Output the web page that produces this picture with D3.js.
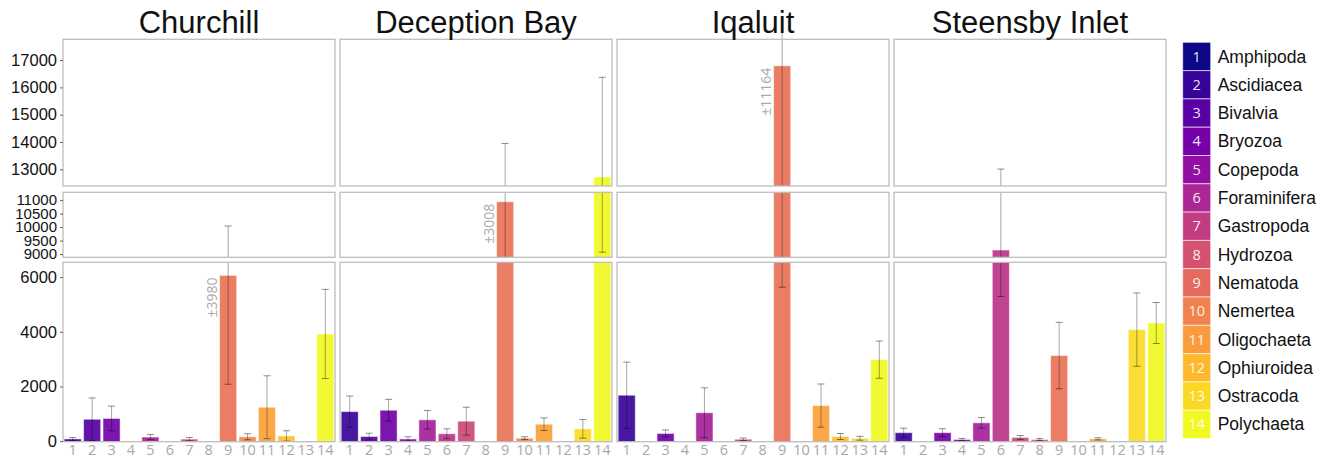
<!DOCTYPE html>
<html>
<head>
<meta charset="utf-8">
<script src="https://cdn.jsdelivr.net/npm/d3@7"></script>
<style>
  body { margin: 0; background: #fff; }
  svg { display: block; }
</style>
</head>
<body>
<svg id="chart" width="1327" height="459"></svg>
<script>
// ===== DATA =====
const taxa = ["Amphipoda", "Ascidiacea", "Bivalvia", "Bryozoa", "Copepoda", "Foraminifera", "Gastropoda",
    "Hydrozoa", "Nematoda", "Nemertea", "Oligochaeta", "Ophiuroidea", "Ostracoda", "Polychaeta"];
const sites = ["Churchill", "Deception Bay", "Iqaluit", "Steensby Inlet"];

const meanChurchill = [80, 800, 830, 0, 150, 0, 75, 0, 6060, 160, 1240, 190, 0, 3920];
const errChurchill  = [50, 780, 450, 0, 95, 0, 60, 0, 3980, 110, 1150, 190, 0, 1630];
const meanDeception = [1080, 170, 1130, 80, 780, 270, 730, 0, 10940, 110, 620, 0, 450, 12720];
const errDeception  = [570, 120, 400, 80, 340, 180, 510, 0, 3008, 50, 230, 0, 340, 3650];
const meanIqaluit   = [1680, 0, 280, 0, 1040, 0, 70, 0, 16790, 0, 1300, 170, 105, 2980];
const errIqaluit    = [1210, 0, 130, 0, 910, 0, 45, 0, 11164, 0, 790, 110, 70, 680];
const meanSteensby  = [310, 0, 310, 60, 670, 9150, 135, 60, 3130, 0, 85, 0, 4080, 4320];
const errSteensby   = [165, 0, 145, 40, 195, 3860, 70, 35, 1215, 0, 40, 0, 1340, 750];

const means = [meanChurchill, meanDeception, meanIqaluit, meanSteensby];
const errs = [errChurchill, errDeception, errIqaluit, errSteensby];
// bars whose error is written out beside them: [site index, taxon index]
const annotated = [[0, 8], [1, 8], [2, 8]];

// broken y axis: three segments, same px-per-unit
const segments = [
    { domain: [12390, 17760], range: [186, 39.3], ticks: [13000, 14000, 15000, 16000, 17000], clipTop: 30 },
    { domain: [8880, 11290], range: [257.3, 192.3], ticks: [9000, 9500, 10000, 10500, 11000] },
    { domain: [-20, 6540], range: [441.7, 262.3], ticks: [0, 2000, 4000, 6000] }
];

// ===== LAYOUT =====
const svg = d3.select('#chart');
const panelX0 = 63, panelW = 272, panelStep = 277;
const legendColor = i => d3.interpolatePlasma(i / 13);
const barColor = i => d3.interpolatePlasma(0.08 + 0.92 * i / 13);
const x = d3.scaleBand().domain(d3.range(14)).range([0, panelW]).paddingInner(0.12).paddingOuter(0.06);

segments.forEach(s => { s.y = d3.scaleLinear().domain(s.domain).range(s.range); });

function segFor(v) {
    return segments.find(s => v >= s.domain[0] && v <= s.domain[1]);
}

const defs = svg.append('defs');

sites.forEach((site, si) => {
    const px = panelX0 + si * panelStep;
    const g = svg.append('g').attr('transform', `translate(${px},0)`);

    // title
    svg.append('text')
        .attr('x', px + panelW / 2).attr('y', 33)
        .attr('text-anchor', 'middle')
        .attr('font-family', 'Liberation Sans, Arial, sans-serif')
        .attr('font-size', 31).attr('fill', '#111')
        .text(site);

    segments.forEach((s, k) => {
        const top = s.range[1], bot = s.range[0];
        const clipId = `clip-${si}-${k}`;
        const ct = s.clipTop !== undefined ? s.clipTop : top;
        defs.append('clipPath').attr('id', clipId)
            .append('rect').attr('x', -2).attr('y', ct).attr('width', panelW + 4).attr('height', bot - ct);

        const layer = g.append('g').attr('clip-path', `url(#${clipId})`);

        // bars
        means[si].forEach((m, i) => {
            if (m <= 0 || m < s.domain[0]) return;
            const yTop = s.y(Math.min(m, s.domain[1] + 100));
            const yBase = s.y(Math.max(0, s.domain[0]));
            layer.append('rect')
                .attr('x', x(i)).attr('width', x.bandwidth())
                .attr('y', yTop).attr('height', Math.max(0, yBase - yTop + 2))
                .attr('fill', barColor(i)).attr('fill-opacity', 0.92)
                .attr('stroke', '#fff').attr('stroke-opacity', 0.5).attr('stroke-width', 1);
        });

        // error bars
        means[si].forEach((m, i) => {
            const e = errs[si][i];
            if (m <= 0 && e <= 0) return;
            const lo = Math.max(0, m - e), hi = m + e;
            const cx = x(i) + x.bandwidth() / 2;
            layer.append('line')
                .attr('x1', cx).attr('x2', cx).attr('y1', s.y(hi)).attr('y2', s.y(lo))
                .attr('stroke', '#000').attr('stroke-opacity', 0.35).attr('stroke-width', 1);
            [lo, hi].forEach(v => {
                if (v < s.domain[0] || v > s.domain[1]) return;
                layer.append('line')
                    .attr('x1', cx - 3.5).attr('x2', cx + 3.5).attr('y1', s.y(v)).attr('y2', s.y(v))
                    .attr('stroke', '#000').attr('stroke-opacity', 0.45).attr('stroke-width', 1);
            });
        });

        // panel border
        g.append('rect')
            .attr('x', 0).attr('y', top).attr('width', panelW).attr('height', bot - top)
            .attr('fill', 'none').attr('stroke', '#bdbdbd').attr('stroke-width', 1.3);

        // y axis on first column only
        if (si === 0) {
            const ax = svg.append('g').attr('transform', `translate(${px},0)`)
                .call(d3.axisLeft(s.y).tickValues(s.ticks).tickFormat(d3.format('d')).tickSize(3).tickPadding(3));
            ax.select('.domain').remove();
            ax.selectAll('.tick line').attr('stroke', '#666');
            ax.selectAll('.tick text')
                .attr('font-family', 'Liberation Sans, Arial, sans-serif')
                .attr('font-size', k === 1 ? 15 : 16.5).attr('fill', '#111');
        }
    });

    // error annotations
    annotated.filter(a => a[0] === si).forEach(([, i]) => {
        const m = means[si][i];
        const s = segFor(m);
        g.append('text')
            .attr('transform', `translate(${x(i) - 3},${s.y(m) + 2}) rotate(-90)`)
            .attr('text-anchor', 'end')
            .attr('font-family', 'Open Sans, sans-serif')
            .attr('font-size', 14).attr('fill', '#aaa')
            .text(`±${errs[si][i]}`);
    });

    // x labels
    g.selectAll('.xlab').data(d3.range(14)).join('text')
        .attr('x', i => x(i) + x.bandwidth() / 2).attr('y', 455)
        .attr('text-anchor', 'middle')
        .attr('font-family', 'Open Sans, sans-serif')
        .attr('font-size', 14.5).attr('fill', '#a8a8a8')
        .text(i => i + 1);
});

// ===== LEGEND =====
const legX = 1182.7, legY = 42.3, legH = 28.3, legW = 28;
const leg = svg.append('g');
taxa.forEach((t, i) => {
    const y = legY + i * legH;
    leg.append('rect')
        .attr('x', legX).attr('y', y).attr('width', legW).attr('height', legH)
        .attr('fill', legendColor(i)).attr('stroke', '#fff').attr('stroke-opacity', 0.6).attr('stroke-width', 1);
    leg.append('text')
        .attr('x', legX + legW / 2).attr('y', y + legH / 2).attr('dy', '0.35em')
        .attr('text-anchor', 'middle')
        .attr('font-family', 'Open Sans, sans-serif')
        .attr('font-size', 14.5).attr('fill', '#fff').attr('fill-opacity', 0.9)
        .text(i + 1);
    leg.append('text')
        .attr('x', legX + legW + 7).attr('y', y + legH / 2).attr('dy', '0.35em')
        .attr('font-family', 'Liberation Sans, Arial, sans-serif')
        .attr('font-size', 17.5).attr('fill', '#111')
        .text(t);
});
</script>
</body>
</html>
